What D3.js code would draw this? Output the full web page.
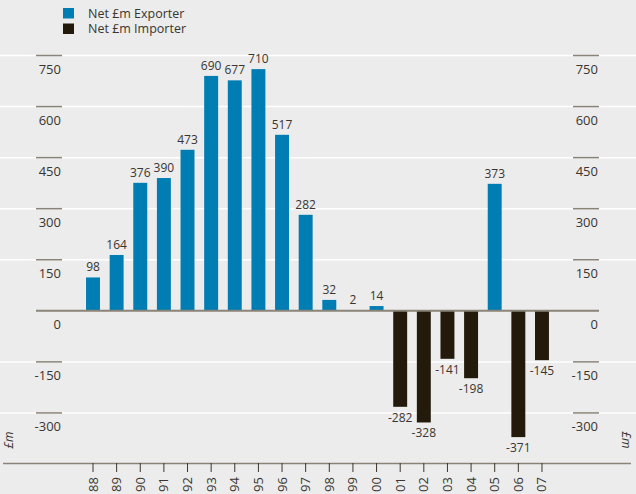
<!DOCTYPE html>
<html>
<head>
<meta charset="utf-8">
<script src="https://d3js.org/d3.v7.min.js"></script>
<style>
body{margin:0;background:#ebeceb;}
svg{display:block;}
text{font-family:"Open Sans","Noto Sans",sans-serif;fill:#3a3530;}
</style>
</head>
<body>
<div id="chart"></div>
<script>
var W = 636, H = 494;

// data
var years = ['88','89','90','91','92','93','94','95','96','97','98','99','00','01','02','03','04','05','06','07'];
var values = [98,164,376,390,473,690,677,710,517,282,32,2,14,-282,-328,-141,-198,373,-371,-145];
var yTicks = [-300,-150,0,150,300,450,600,750];
var legendLabels = ['Net £m Exporter','Net £m Importer'];
var colours = ['#007db2','#231a0c'];

var svg = d3.select('#chart').append('svg')
    .attr('width', W)
    .attr('height', H);

svg.append('rect').attr('width', W).attr('height', H).attr('fill', '#ebeceb');

var y = d3.scaleLinear().domain([-450, 750]).range([464, 55.5]);
var step = 23.63;
var x = d3.scaleBand().domain(years)
    .range([93 - step/2, 93 + step*(years.length - 0.5)])
    .paddingInner(0.41).paddingOuter(0.205);

// grid lines
svg.append('g').selectAll('line')
    .data(yTicks.filter(d => d != 0))
    .enter().append('line')
    .attr('x1', 0).attr('x2', W)
    .attr('y1', d => y(d)).attr('y2', d => y(d))
    .attr('stroke', '#ffffff').attr('stroke-width', 1.5);

// left and right tick marks + labels
[[36, 62], [573, 599]].forEach(function(p){
    var g = svg.append('g');
    g.selectAll('line').data(yTicks.filter(d => d != 0)).enter().append('line')
        .attr('x1', p[0]).attr('x2', p[1])
        .attr('y1', d => y(d)).attr('y2', d => y(d))
        .attr('stroke', '#8a8378').attr('stroke-width', 1.5);
    g.selectAll('text').data(yTicks).enter().append('text')
        .attr('x', p[1] - 1)
        .attr('y', d => y(d) + 18)
        .attr('text-anchor', 'end')
        .attr('font-size', 13)
        .text(d => d);
});

// bars
svg.append('g').selectAll('rect')
    .data(values).enter().append('rect')
    .attr('x', (d, i) => x(years[i]))
    .attr('width', x.bandwidth())
    .attr('y', d => y(Math.max(0, d)))
    .attr('height', d => Math.abs(y(d) - y(0)))
    .attr('fill', d => d >= 0 ? colours[0] : colours[1]);

// value labels
svg.append('g').selectAll('text')
    .data(values).enter().append('text')
    .attr('x', (d, i) => x(years[i]) + x.bandwidth()/2)
    .attr('y', d => d >= 0 ? y(d) - 6 : y(d) + 15)
    .attr('text-anchor', 'middle')
    .attr('font-size', 12)
    .text(d => d);

// zero line
svg.append('line')
    .attr('x1', 36).attr('x2', 599)
    .attr('y1', y(0)).attr('y2', y(0))
    .attr('stroke', '#8a8378').attr('stroke-width', 2);

// bottom axis
svg.append('line')
    .attr('x1', 3).attr('x2', 631)
    .attr('y1', 463.5).attr('y2', 463.5)
    .attr('stroke', '#8a8378').attr('stroke-width', 1.5);

var xg = svg.append('g');
xg.selectAll('line').data(years).enter().append('line')
    .attr('x1', d => x(d) + x.bandwidth()/2).attr('x2', d => x(d) + x.bandwidth()/2)
    .attr('y1', 463).attr('y2', 472)
    .attr('stroke', '#3a3530').attr('stroke-width', 1);
xg.selectAll('text').data(years).enter().append('text')
    .attr('transform', d => `translate(${x(d) + x.bandwidth()/2 + 4.5},477) rotate(-90)`)
    .attr('text-anchor', 'end')
    .attr('font-size', 13)
    .text(d => d);

// axis unit labels
svg.append('text')
    .attr('transform', 'translate(13,440) rotate(-90)')
    .attr('text-anchor', 'middle')
    .attr('font-size', 12).attr('font-style', 'italic')
    .text('£m');
svg.append('text')
    .attr('transform', 'translate(622,440) rotate(90)')
    .attr('text-anchor', 'middle')
    .attr('font-size', 12).attr('font-style', 'italic')
    .text('£m');

// legend
var lg = svg.append('g');
legendLabels.forEach(function(t, i){
    lg.append('rect').attr('x', 63).attr('y', 8 + i*15.5)
        .attr('width', 11).attr('height', 10.5).attr('fill', colours[i]);
    lg.append('text').attr('x', 88).attr('y', 17.5 + i*15.5)
        .attr('font-size', 12.5).text(t);
});
</script>
</body>
</html>
